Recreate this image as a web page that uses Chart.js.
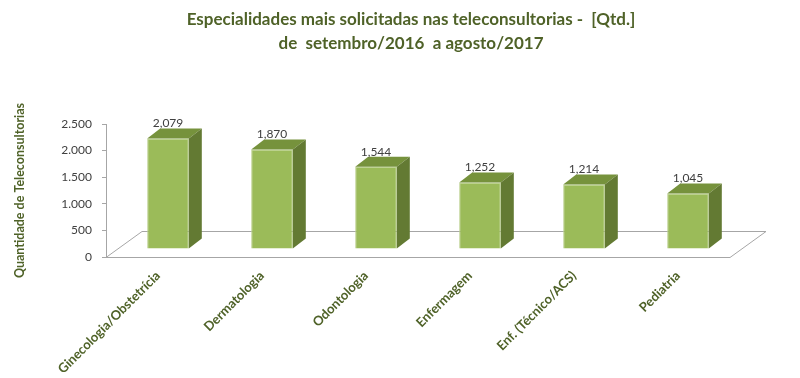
<!DOCTYPE html>
<html>
<head>
<meta charset="utf-8">
<script src="https://cdn.jsdelivr.net/npm/chart.js@4.4.1/dist/chart.umd.min.js"></script>
<style>
  html, body { margin: 0; padding: 0; background: #fff; }
  #wrap { width: 800px; height: 378px; }
</style>
</head>
<body>
<div id="wrap"><canvas id="chart" width="800" height="378"></canvas></div>
<script>
const categories = [
  'Ginecologia/Obstetrícia',
  'Dermatologia',
  'Odontologia',
  'Enfermagem',
  'Enf. (Técnico/ACS)',
  'Pediatria'
];
const values = [2079, 1870, 1544, 1252, 1214, 1045];
const yMin = 0;
const yMax = 2500;
const yStep = 500;
const titleLines = [
  'Especialidades mais solicitadas nas teleconsultorias -  [Qtd.]',
  'de  setembro/2016  a agosto/2017'
];
const yTitle = 'Quantidade de Teleconsultorias';

const olive = '#4F6228';
const fontFamily = 'Lato, "Noto Sans", sans-serif';

// fake 3d: floor depth, bar shift into floor, bar depth
const floorDepth = { dx: 36, dy: -26 };
const barShift = { dx: 10, dy: -8 };
const barDepth = { dx: 13, dy: -10 };

// title is drawn by hand so it can sit over the middle of the page
const titleBlock = {
  id: 'titleBlock',
  afterDraw(chart) {
    const { ctx } = chart;
    ctx.save();
    ctx.font = 'bold 17px ' + fontFamily;
    ctx.fillStyle = olive;
    ctx.textAlign = 'center';
    ctx.textBaseline = 'middle';
    titleLines.forEach((line, i) => {
      ctx.fillText(line, 411, 20 + i * 24);
    });
    ctx.restore();
  }
};

const bar3d = {
  id: 'bar3d',
  beforeDatasetsDraw(chart) {
    const { ctx, chartArea } = chart;
    const { left, right, bottom } = chartArea;
    ctx.save();
    ctx.strokeStyle = '#A6A6A6';
    ctx.lineWidth = 1;
    ctx.beginPath();
    ctx.moveTo(left, bottom + 0.5);
    ctx.lineTo(right, bottom + 0.5);
    ctx.lineTo(right + floorDepth.dx, bottom + floorDepth.dy + 0.5);
    ctx.lineTo(left + floorDepth.dx, bottom + floorDepth.dy + 0.5);
    ctx.closePath();
    ctx.stroke();
    ctx.restore();

    ctx.save();
    ctx.translate(barShift.dx, barShift.dy);
  },
  afterDatasetsDraw(chart) {
    const { ctx } = chart;
    const meta = chart.getDatasetMeta(0);

    meta.data.forEach((bar) => {
      const { x, y, base, width } = bar.getProps(['x', 'y', 'base', 'width'], true);
      const l = x - width / 2;
      const r = x + width / 2;

      // top face
      ctx.fillStyle = '#76923C';
      ctx.beginPath();
      ctx.moveTo(l, y);
      ctx.lineTo(r, y);
      ctx.lineTo(r + barDepth.dx, y + barDepth.dy);
      ctx.lineTo(l + barDepth.dx, y + barDepth.dy);
      ctx.closePath();
      ctx.fill();

      // side face
      ctx.fillStyle = '#637A33';
      ctx.beginPath();
      ctx.moveTo(r, y);
      ctx.lineTo(r + barDepth.dx, y + barDepth.dy);
      ctx.lineTo(r + barDepth.dx, base + barDepth.dy);
      ctx.lineTo(r, base);
      ctx.closePath();
      ctx.fill();
    });
    ctx.restore();

    // value labels
    ctx.save();
    ctx.font = '12px ' + fontFamily;
    ctx.fillStyle = '#404040';
    ctx.textAlign = 'center';
    ctx.textBaseline = 'middle';
    meta.data.forEach((bar, i) => {
      const { x, y } = bar.getProps(['x', 'y'], true);
      const txt = values[i].toLocaleString('en-US');
      ctx.fillText(txt, x + barShift.dx, y + barShift.dy - 15);
    });
    ctx.restore();
  }
};

new Chart(document.getElementById('chart'), {
  type: 'bar',
  data: {
    labels: categories,
    datasets: [{
      data: values,
      backgroundColor: '#9BBB59',
      borderColor: '#B9CF8A',
      borderWidth: 1,
      barPercentage: 0.4,
      categoryPercentage: 1,
      clip: false
    }]
  },
  options: {
    responsive: false,
    animation: false,
    events: [],
    layout: { padding: { left: 0, right: 70, top: 124, bottom: 0 } },
    plugins: {
      legend: { display: false },
      tooltip: { enabled: false },
      title: { display: false }
    },
    scales: {
      x: {
        grid: { display: false },
        border: { display: false },
        ticks: {
          color: olive,
          font: { family: fontFamily, size: 13, weight: 'bold' },
          minRotation: 45,
          maxRotation: 45,
          padding: 3
        },
        afterFit(scale) { scale.height = 121; }
      },
      y: {
        min: yMin,
        max: yMax,
        grid: {
          drawOnChartArea: false,
          drawTicks: true,
          tickLength: 4,
          color: '#A6A6A6'
        },
        border: { display: true, color: '#A6A6A6' },
        ticks: {
          stepSize: yStep,
          padding: 10,
          color: '#404040',
          font: { family: fontFamily, size: 12 },
          callback: (v) => v.toLocaleString('en-US').replace(/,/g, '.')
        },
        title: {
          display: true,
          text: yTitle,
          color: olive,
          font: { family: fontFamily, size: 12.5, weight: 'bold' },
          padding: { top: 12, bottom: 0 }
        },
        afterFit(scale) { scale.width = 106; }
      }
    }
  },
  plugins: [bar3d, titleBlock]
});
</script>
</body>
</html>
